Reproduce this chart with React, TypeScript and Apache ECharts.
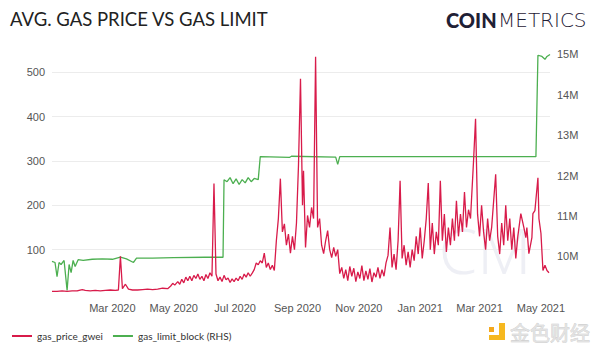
import React, { useEffect, useRef } from "react";
import * as echarts from "echarts";

// ---- data ----
const gasPriceData: [string, number][] = [
  ["2020-01-01", 6], ["2020-01-06", 6], ["2020-01-11", 7], ["2020-01-16", 6], ["2020-01-21", 7],
  ["2020-01-26", 7], ["2020-01-31", 10], ["2020-02-03", 8], ["2020-02-08", 7], ["2020-02-13", 8],
  ["2020-02-18", 7], ["2020-02-23", 8], ["2020-02-28", 9], ["2020-03-04", 8], ["2020-03-07", 9],
  ["2020-03-09", 85], ["2020-03-11", 12], ["2020-03-14", 22], ["2020-03-17", 11], ["2020-03-21", 9],
  ["2020-03-26", 9], ["2020-03-31", 10], ["2020-04-05", 11], ["2020-04-10", 10], ["2020-04-15", 11],
  ["2020-04-20", 13], ["2020-04-25", 12], ["2020-04-28", 18], ["2020-04-30", 24], ["2020-05-02", 20],
  ["2020-05-05", 28], ["2020-05-07", 22], ["2020-05-09", 33], ["2020-05-11", 25], ["2020-05-13", 38],
  ["2020-05-15", 30], ["2020-05-17", 40], ["2020-05-19", 30], ["2020-05-21", 42], ["2020-05-23", 35],
  ["2020-05-25", 45], ["2020-05-27", 33], ["2020-05-29", 40], ["2020-05-31", 30], ["2020-06-02", 44],
  ["2020-06-04", 35], ["2020-06-06", 48], ["2020-06-08", 40], ["2020-06-10", 249], ["2020-06-12", 45],
  ["2020-06-14", 30], ["2020-06-16", 38], ["2020-06-18", 28], ["2020-06-20", 42], ["2020-06-22", 32],
  ["2020-06-24", 36], ["2020-06-26", 26], ["2020-06-28", 34], ["2020-06-30", 28], ["2020-07-02", 36],
  ["2020-07-04", 30], ["2020-07-06", 40], ["2020-07-08", 33], ["2020-07-10", 45], ["2020-07-12", 38],
  ["2020-07-14", 48], ["2020-07-16", 40], ["2020-07-18", 47], ["2020-07-20", 55], ["2020-07-22", 70],
  ["2020-07-24", 66], ["2020-07-26", 75], ["2020-07-28", 70], ["2020-07-30", 92], ["2020-08-01", 60],
  ["2020-08-03", 70], ["2020-08-05", 55], ["2020-08-07", 65], ["2020-08-09", 53], ["2020-08-11", 120],
  ["2020-08-13", 170], ["2020-08-15", 260], ["2020-08-17", 140], ["2020-08-19", 158], ["2020-08-21", 110],
  ["2020-08-23", 135], ["2020-08-25", 92], ["2020-08-27", 130], ["2020-08-29", 100], ["2020-08-31", 160],
  ["2020-09-02", 290], ["2020-09-04", 485], ["2020-09-06", 200], ["2020-09-07", 278], ["2020-09-09", 105],
  ["2020-09-11", 177], ["2020-09-13", 150], ["2020-09-15", 195], ["2020-09-17", 170], ["2020-09-19", 535],
  ["2020-09-21", 150], ["2020-09-23", 170], ["2020-09-25", 110], ["2020-09-27", 91], ["2020-09-29", 120],
  ["2020-10-01", 143], ["2020-10-03", 100], ["2020-10-05", 82], ["2020-10-07", 105], ["2020-10-09", 85],
  ["2020-10-11", 100], ["2020-10-13", 46], ["2020-10-15", 60], ["2020-10-17", 35], ["2020-10-19", 55],
  ["2020-10-21", 30], ["2020-10-23", 62], ["2020-10-25", 40], ["2020-10-27", 58], ["2020-10-29", 28],
  ["2020-10-31", 50], ["2020-11-02", 35], ["2020-11-04", 64], ["2020-11-06", 30], ["2020-11-08", 52],
  ["2020-11-10", 33], ["2020-11-12", 57], ["2020-11-14", 27], ["2020-11-16", 48], ["2020-11-18", 38],
  ["2020-11-20", 60], ["2020-11-22", 35], ["2020-11-24", 55], ["2020-11-26", 40], ["2020-11-28", 70],
  ["2020-11-30", 87], ["2020-12-02", 150], ["2020-12-04", 60], ["2020-12-06", 90], ["2020-12-08", 55],
  ["2020-12-10", 120], ["2020-12-12", 255], ["2020-12-14", 80], ["2020-12-16", 110], ["2020-12-18", 65],
  ["2020-12-20", 95], ["2020-12-22", 60], ["2020-12-24", 100], ["2020-12-26", 75], ["2020-12-28", 130],
  ["2020-12-30", 90], ["2021-01-01", 150], ["2021-01-03", 80], ["2021-01-05", 120], ["2021-01-07", 170],
  ["2021-01-09", 250], ["2021-01-11", 100], ["2021-01-13", 160], ["2021-01-15", 90], ["2021-01-17", 140],
  ["2021-01-19", 110], ["2021-01-21", 255], ["2021-01-23", 120], ["2021-01-25", 180], ["2021-01-27", 95],
  ["2021-01-29", 150], ["2021-01-31", 110], ["2021-02-02", 170], ["2021-02-04", 120], ["2021-02-06", 210],
  ["2021-02-08", 130], ["2021-02-10", 180], ["2021-02-12", 140], ["2021-02-14", 230], ["2021-02-16", 150],
  ["2021-02-18", 190], ["2021-02-20", 170], ["2021-02-23", 300], ["2021-02-25", 395], ["2021-02-27", 180],
  ["2021-03-01", 130], ["2021-03-03", 200], ["2021-03-05", 140], ["2021-03-07", 100], ["2021-03-09", 170],
  ["2021-03-11", 120], ["2021-03-13", 150], ["2021-03-17", 270], ["2021-03-19", 130], ["2021-03-21", 90],
  ["2021-03-23", 160], ["2021-03-25", 110], ["2021-03-27", 200], ["2021-03-29", 120], ["2021-03-31", 170],
  ["2021-04-02", 100], ["2021-04-04", 150], ["2021-04-06", 80], ["2021-04-08", 130], ["2021-04-11", 181],
  ["2021-04-14", 150], ["2021-04-16", 127], ["2021-04-17", 150], ["2021-04-19", 91], ["2021-04-22", 127],
  ["2021-04-23", 181], ["2021-04-25", 188], ["2021-04-28", 262], ["2021-04-29", 170], ["2021-05-01", 137],
  ["2021-05-03", 53], ["2021-05-05", 65], ["2021-05-07", 53], ["2021-05-09", 48],
];

const gasLimitData: [string, number][] = [
  ["2020-01-01", 9.88e6], ["2020-01-04", 9.85e6], ["2020-01-06", 9.5e6], ["2020-01-08", 9.85e6],
  ["2020-01-10", 9.8e6], ["2020-01-13", 9.9e6], ["2020-01-16", 9.16e6], ["2020-01-18", 9.8e6],
  ["2020-01-20", 9.6e6], ["2020-01-22", 9.9e6], ["2020-01-24", 9.75e6], ["2020-01-27", 9.92e6],
  ["2020-02-01", 9.9e6], ["2020-02-10", 9.93e6], ["2020-02-20", 9.94e6], ["2020-03-01", 9.93e6],
  ["2020-03-09", 9.98e6], ["2020-03-15", 9.94e6], ["2020-03-22", 9.85e6], ["2020-03-25", 9.96e6],
  ["2020-04-10", 9.96e6], ["2020-05-01", 9.97e6], ["2020-06-01", 9.98e6], ["2020-06-19", 9.98e6],
  ["2020-06-20", 11.9e6], ["2020-06-23", 11.85e6], ["2020-06-26", 11.95e6], ["2020-06-29", 11.8e6],
  ["2020-07-02", 11.92e6], ["2020-07-05", 11.78e6], ["2020-07-08", 11.9e6], ["2020-07-11", 11.82e6],
  ["2020-07-14", 11.95e6], ["2020-07-17", 11.85e6], ["2020-07-20", 11.93e6], ["2020-07-24", 11.9e6],
  ["2020-07-26", 12.47e6], ["2020-08-24", 12.45e6], ["2020-08-26", 12.48e6], ["2020-10-09", 12.46e6],
  ["2020-10-11", 12.28e6], ["2020-10-13", 12.47e6], ["2021-04-26", 12.47e6], ["2021-04-28", 14.98e6],
  ["2021-05-02", 14.95e6], ["2021-05-05", 14.88e6], ["2021-05-07", 14.95e6], ["2021-05-10", 15.0e6],
];

const xTickLabels: string[] = [
  "2020-03-01", "2020-05-01", "2020-07-01", "2020-09-01",
  "2020-11-01", "2021-01-01", "2021-03-01", "2021-05-01",
];
const leftTicks: number[] = [100, 200, 300, 400, 500];
const rightTicks: number[] = [10e6, 11e6, 12e6, 13e6, 14e6, 15e6];
const monthNames = ["Jan", "Feb", "Mar", "Apr", "May", "Jun", "Jul", "Aug", "Sep", "Oct", "Nov", "Dec"];

const toTs = (s: string) => {
  const [y, m, d] = s.split("-").map(Number);
  return Date.UTC(y, m - 1, d);
};

export default function App() {
  const ref = useRef<HTMLDivElement>(null);
  useEffect(() => {
    if (!ref.current) return;
    const chart = echarts.init(ref.current, undefined, { renderer: "svg" });
    const axisFont = "'Liberation Sans', Arial, sans-serif";
    chart.setOption({
      animation: false,
      backgroundColor: "#ffffff",
      grid: { left: 52, right: 50, top: 50, height: 244, containLabel: false },
      legend: {
        left: 12,
        top: 331,
        padding: 0,
        itemWidth: 20,
        itemHeight: 2,
        itemGap: 10,
        icon: "rect",
        textStyle: { color: "#333", fontSize: 10, fontFamily: "Lato, 'Open Sans', sans-serif" },
        data: ["gas_price_gwei", "gas_limit_block (RHS)"],
      },
      xAxis: {
        type: "value",
        min: toTs("2020-01-01"),
        max: toTs("2021-05-10"),
        axisLine: { show: false },
        axisTick: { show: false, customValues: xTickLabels.map(toTs) },
        splitLine: { show: false },
        axisLabel: {
          customValues: xTickLabels.map(toTs),
          color: "#555",
          fontSize: 11,
          fontFamily: axisFont,
          margin: 8,
          formatter: (v: number) => {
            const d = new Date(v);
            return monthNames[d.getUTCMonth()] + " " + d.getUTCFullYear();
          },
        },
      },
      yAxis: [
        {
          type: "value",
          min: 0,
          max: 550,
          axisLine: { show: false },
          axisTick: { show: false, customValues: leftTicks },
          splitLine: { show: true, lineStyle: { color: "#ececec", width: 1 } },
          axisLabel: { customValues: leftTicks, color: "#555", fontSize: 11, fontFamily: axisFont, margin: 7 },
        },
        {
          type: "value",
          min: 9.07e6,
          max: 15.11e6,
          position: "right",
          axisLine: { show: false },
          axisTick: { show: false, customValues: rightTicks },
          splitLine: { show: false },
          axisLabel: {
            customValues: rightTicks,
            color: "#555",
            fontSize: 11,
            fontFamily: axisFont,
            margin: 7,
            formatter: (v: number) => Math.round(v / 1e6) + "M",
          },
        },
      ],
      graphic: [
        {
          type: "text",
          z: 0,
          silent: true,
          style: {
            text: "CM",
            x: 485,
            y: 250,
            fontSize: 62,
            fontFamily: "'Noto Sans', sans-serif",
            fontWeight: 300,
            fill: "rgba(205,210,225,0.35)",
            align: "center",
            verticalAlign: "middle",
          },
        },
        {
          type: "text",
          style: {
            text: "AVG. GAS PRICE VS GAS LIMIT",
            x: 10,
            y: 19,
            fontSize: 18.5,
            fontFamily: "Lato, sans-serif",
            fill: "#222",
            verticalAlign: "middle",
          },
        },
        {
          type: "text",
          style: {
            text: "COIN",
            x: 446,
            y: 20,
            fontSize: 20,
            fontWeight: 900,
            fontFamily: "Lato, sans-serif",
            fill: "#1f2035",
            verticalAlign: "middle",
          },
        },
        {
          type: "text",
          style: {
            text: "METRICS",
            x: 498,
            y: 20,
            fontSize: 20,
            fontWeight: 200,
            fontFamily: "'DejaVu Sans', sans-serif",
            fill: "#1f2035",
            verticalAlign: "middle",
          },
        },
        { type: "rect", shape: { x: 489, y: 327, width: 5, height: 5 }, style: { fill: "#f4a81d" } },
        { type: "rect", shape: { x: 499, y: 323, width: 6, height: 17 }, style: { fill: "#f6b81f" } },
        { type: "rect", shape: { x: 489, y: 335, width: 16, height: 5 }, style: { fill: "#f6b81f" } },
        {
          type: "text",
          style: {
            text: "金色财经",
            x: 510,
            y: 332,
            fontSize: 20,
            fontFamily: "'Noto Sans CJK SC', sans-serif",
            fill: "#e2e2e2",
            stroke: "#c8c8c8",
            lineWidth: 0.6,
            verticalAlign: "middle",
          },
        },
      ],
      series: [
        {
          name: "gas_price_gwei",
          type: "line",
          yAxisIndex: 0,
          showSymbol: false,
          data: gasPriceData.map(([d, v]) => [toTs(d), v]),
          lineStyle: { color: "#d81b4a", width: 1.3 },
          itemStyle: { color: "#d81b4a" },
          z: 3,
        },
        {
          name: "gas_limit_block (RHS)",
          type: "line",
          yAxisIndex: 1,
          showSymbol: false,
          data: gasLimitData.map(([d, v]) => [toTs(d), v]),
          lineStyle: { color: "#4caf50", width: 1.3 },
          itemStyle: { color: "#4caf50" },
          z: 2,
        },
      ],
    });
    return () => chart.dispose();
  }, []);
  return <div ref={ref} style={{ width: 600, height: 352, position: "absolute", left: 0, top: 0 }} />;
}
